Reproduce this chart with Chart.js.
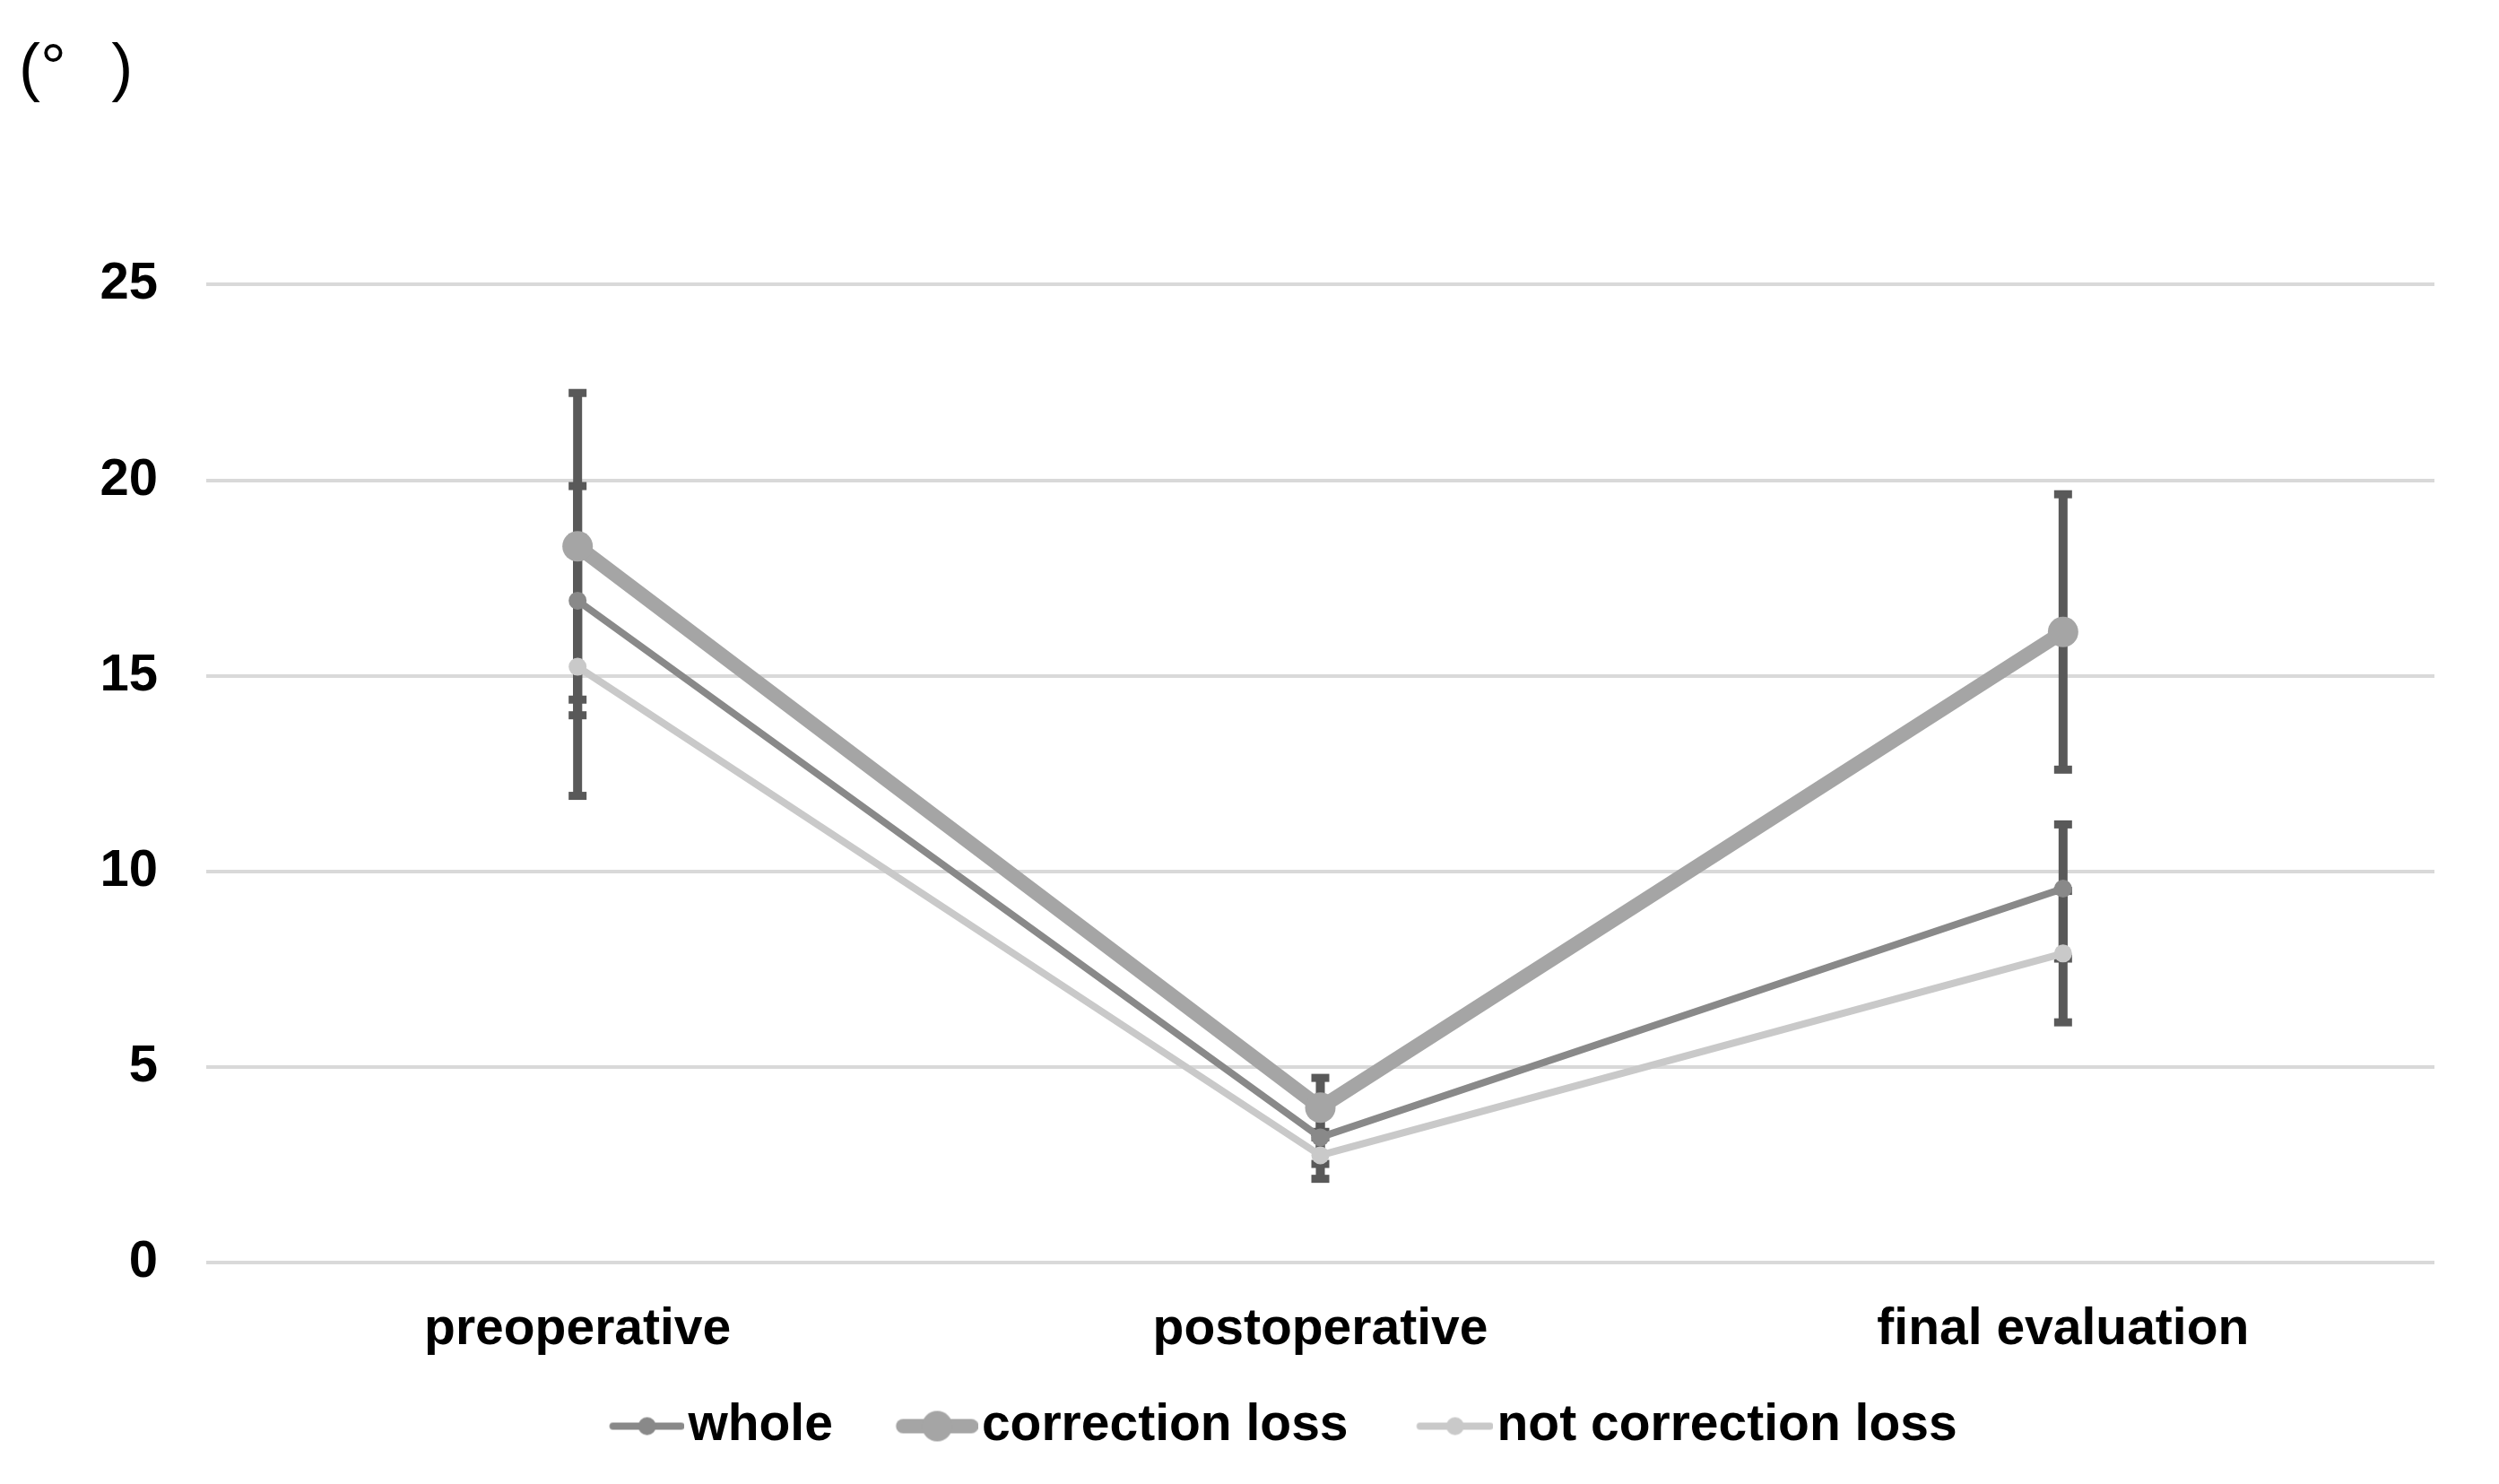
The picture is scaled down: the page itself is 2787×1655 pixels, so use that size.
<!DOCTYPE html>
<html>
<head>
<meta charset="utf-8">
<script src="https://cdn.jsdelivr.net/npm/chart.js@4/dist/chart.umd.min.js"></script>
<style>
  html, body { margin:0; padding:0; background:#fff; }
</style>
</head>
<body>
<canvas id="grafica" width="2787" height="1655"></canvas>
<script>
// datos
const categorias = ['preoperative', 'postoperative', 'final evaluation'];
const series     = ['whole', 'correction loss', 'not correction loss'];

const whole       = [16.92, 3.20, 9.56];
const wholeLo     = [13.99, 2.52, 7.77];
const wholeHi     = [19.85, 3.88, 11.20];

const correction   = [18.31, 3.96, 16.12];
const correctionLo = [14.39, 3.20, 12.60];
const correctionHi = [22.23, 4.72, 19.64];

const notCorrection   = [15.23, 2.74, 7.90];
const notCorrectionLo = [11.93, 2.14, 6.14];
const notCorrectionHi = [18.53, 3.34, 9.50];

const yTicks = [0, 5, 10, 15, 20, 25];

// icono de leyenda: línea + marcador (con margen transparente a la izquierda)
const ANCHO_ICONO = 101.5;
function iconoLeyenda(color, grosor, radio, largo) {
  const margen = ANCHO_ICONO + 49 - largo;
  const c = document.createElement('canvas');
  c.width = margen + largo; c.height = radio * 2 + 4;
  const g = c.getContext('2d');
  const cy = c.height / 2;
  g.strokeStyle = color; g.lineWidth = grosor; g.lineCap = 'round';
  g.beginPath(); g.moveTo(margen + grosor / 2, cy); g.lineTo(margen + largo - grosor / 2, cy); g.stroke();
  g.fillStyle = color;
  g.beginPath(); g.arc(margen + largo / 2, cy, radio, 0, Math.PI * 2); g.fill();
  return c;
}

// barras de error dibujadas por debajo de las líneas
const barrasError = {
  id: 'barrasError',
  afterLayout(chart) {
    // la leyenda del original está algo desplazada a la derecha
    chart.legend.left += 42; chart.legend.right += 42;
  },
  beforeDatasetsDraw(chart) {
    const {ctx, scales: {x, y}} = chart;
    ctx.save();
    ctx.strokeStyle = '#595959';
    chart.data.datasets.forEach(ds => {
      ds.lo.forEach((lo, i) => {
        const px = x.getPixelForValue(i);
        const yLo = y.getPixelForValue(lo), yHi = y.getPixelForValue(ds.hi[i]);
        ctx.lineWidth = 10; ctx.lineCap = 'butt';
        ctx.beginPath(); ctx.moveTo(px, yLo); ctx.lineTo(px, yHi); ctx.stroke();
        ctx.lineWidth = 9;
        [yLo, yHi].forEach(py => {
          ctx.beginPath(); ctx.moveTo(px - 10, py); ctx.lineTo(px + 10, py); ctx.stroke();
        });
      });
    });
    ctx.restore();
  }
};

const el = document.getElementById('grafica');
new Chart(el.getContext('2d'), {
  type: 'line',
  data: {
    labels: categorias,
    datasets: [
      { label: series[0], data: whole, lo: wholeLo, hi: wholeHi,
        borderColor: '#898989', backgroundColor: '#898989', borderWidth: 8,
        pointRadius: 10, pointHoverRadius: 10,
        icono: iconoLeyenda('#898989', 8, 10, 84) },
      { label: series[1], data: correction, lo: correctionLo, hi: correctionHi,
        borderColor: '#a5a5a5', backgroundColor: '#a5a5a5', borderWidth: 16,
        pointRadius: 17, pointHoverRadius: 17,
        icono: iconoLeyenda('#a5a5a5', 16, 17, 92) },
      { label: series[2], data: notCorrection, lo: notCorrectionLo, hi: notCorrectionHi,
        borderColor: '#c9c9c9', backgroundColor: '#c9c9c9', borderWidth: 8,
        pointRadius: 10, pointHoverRadius: 10,
        icono: iconoLeyenda('#c9c9c9', 8, 10, 86) }
    ].map(d => ({ ...d, tension: 0, fill: false, pointStyle: 'circle', pointBorderWidth: 0 }))
  },
  options: {
    responsive: false, devicePixelRatio: 1, animation: false,
    layout: { padding: { left: 21, right: 72, top: 0, bottom: 26 } },
    scales: {
      x: {
        offset: true,
        afterFit: ax => { ax.height = 118; },
        grid: { display: false, drawTicks: false }, border: { display: false },
        ticks: { color: '#000', padding: 41, maxRotation: 0, font: { family: 'Liberation Sans', size: 57, weight: 'bold' } }
      },
      y: {
        min: 0, max: 25,
        afterFit: ax => { ax.width = 209; },
        afterBuildTicks: ax => { ax.ticks = yTicks.map(v => ({ value: v })); },
        grid: { color: '#d9d9d9', lineWidth: 4, drawTicks: false }, border: { display: false },
        ticks: { color: '#000', padding: 54, font: { family: 'Liberation Sans', size: 58, weight: 'bold' } }
      }
    },
    plugins: {
      title: {
        display: true, text: '(°\u2002\u2009)', align: 'start', color: '#000',
        font: { family: 'Liberation Sans', size: 72, weight: 'normal' },
        padding: { top: 36, bottom: 195 }
      },
      legend: {
        position: 'bottom',
        labels: {
          usePointStyle: true, pointStyleWidth: ANCHO_ICONO, padding: 36, color: '#000',
          font: { family: 'Liberation Sans', size: 57, weight: 'bold' },
          generateLabels: chart => chart.data.datasets.map((ds, i) => ({
            text: ds.label, pointStyle: ds.icono, datasetIndex: i,
            fillStyle: ds.backgroundColor, strokeStyle: ds.borderColor, lineWidth: 0, hidden: false
          }))
        }
      },
      tooltip: { enabled: false }
    }
  },
  plugins: [barrasError]
});
</script>
</body>
</html>
